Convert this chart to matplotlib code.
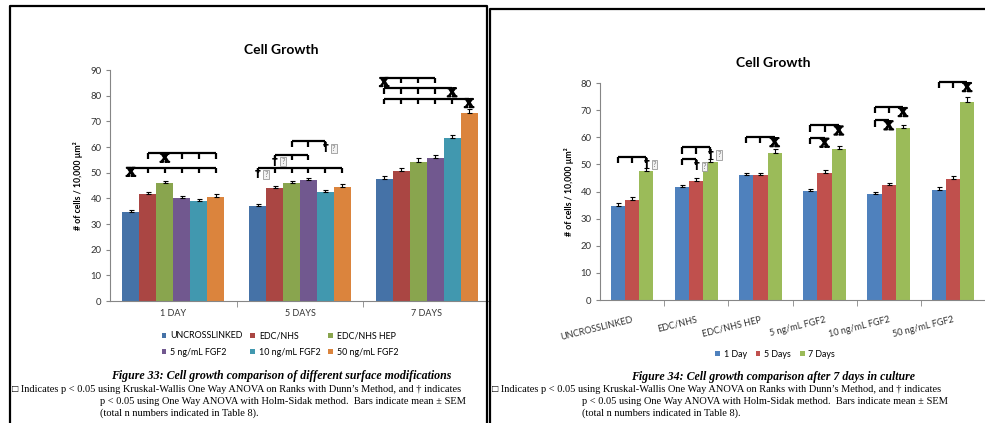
import matplotlib
matplotlib.use("Agg")
import matplotlib.pyplot as plt
import matplotlib.patheffects as pe
from matplotlib.lines import Line2D
import numpy as np

# dados
dias = ['1 DAY', '5 DAYS', '7 DAYS']
tratamentos = ['UNCROSSLINKED', 'EDC/NHS', 'EDC/NHS HEP',
               '5 ng/mL FGF2', '10 ng/mL FGF2', '50 ng/mL FGF2']
dia_1 = [34.8, 41.6, 46.1, 40.1, 39.1, 40.6]
dia_5 = [36.9, 44.0, 46.1, 47.0, 42.3, 44.6]
dia_7 = [47.6, 50.7, 54.3, 55.6, 63.4, 73.1]
sem_1 = [0.8, 0.9, 0.8, 0.8, 0.6, 1.0]
sem_5 = [1.0, 0.8, 0.8, 0.9, 0.9, 1.0]
sem_7 = [1.0, 1.2, 1.3, 1.2, 1.2, 1.6]
legenda_dias = ['1 Day', '5 Days', '7 Days']

# colchetes de significancia: (grupo, barra_ini, barra_fim, altura, simbolo, barra_simbolo)
colchetes_33 = [(0, 0, 5, 52.0, 'x', 0), (0, 1, 5, 57.5, 'x', 2),
                (1, 0, 5, 52.0, 'd', 0), (1, 1, 3, 57.0, 'd', 1),
                (1, 2, 4, 62.2, 'd', 4),
                (2, 0, 3, 87.0, 'x', 0), (2, 0, 4, 83.0, 'x', 4),
                (2, 0, 5, 78.8, 'x', 5)]
colchetes_34 = [(0, 0, 2, 52.8, 'd', 2),
                (1, 0, 2, 56.4, 'd', 2), (1, 0, 1, 52.1, 'd', 1),
                (2, 0, 2, 60.1, 'x', 2),
                (3, 0, 2, 64.4, 'x', 2), (3, 0, 1, 59.9, 'x', 1),
                (4, 0, 2, 71.2, 'x', 2), (4, 0, 1, 66.3, 'x', 1),
                (5, 0, 2, 80.4, 'x', 2)]

cores_33 = ['#4572A7', '#AA4643', '#89A54E', '#71588F', '#4198AF', '#DB843D']
cores_34 = ['#4F81BD', '#C0504D', '#9BBB59']

W, H = 985, 423
plt.rcParams['font.family'] = ['Lato', 'DejaVu Sans']
fig = plt.figure(figsize=(W / 100, H / 100), dpi=100)


def px(x, y):
    return x / W, 1 - y / H


def eixo(x0, x1, y0, y1):
    ax = fig.add_axes([x0 / W, 1 - y1 / H, (x1 - x0) / W, (y1 - y0) / H])
    for s in ['top', 'right']:
        ax.spines[s].set_visible(False)
    for s in ['left', 'bottom']:
        ax.spines[s].set_color('#868686')
    ax.tick_params(axis='y', labelsize=6.8, colors='#868686', labelcolor='#333333',
                   length=3, pad=3)
    ax.tick_params(axis='x', which='major', length=0, labelsize=6.5,
                   labelcolor='#333333', pad=6)
    ax.tick_params(axis='x', which='minor', length=4, colors='#868686')
    ax.set_ylabel('# of cells / 10,000 µm²', fontsize=6.3, fontweight='bold')
    return ax


def desenha_colchetes(ax, lista, xs, tam):
    for g, i0, i1, y, simb, isimb in lista:
        xa = xs[g][i0]
        xb = xs[g][i1]
        ax.plot([xa, xb], [y, y], color='black', lw=1.6, clip_on=False,
                solid_capstyle='butt')
        for i in range(i0, i1 + 1):
            ax.plot([xs[g][i], xs[g][i]], [y, y - tam], color='black', lw=1.6,
                    clip_on=False, solid_capstyle='butt')
        xm = xs[g][isimb]
        ym = y - tam
        if simb == 'x':
            ax.text(xm, ym, 'X', fontsize=9.5, fontweight='bold',
                    family='Liberation Serif', ha='center', va='center',
                    clip_on=False,
                    path_effects=[pe.withStroke(linewidth=1.2, foreground='black')])
        else:
            ax.annotate('†', (xm, ym), xytext=(0, -0.5), textcoords='offset points',
                        fontsize=8.5, fontweight='bold', ha='center', va='center',
                        family='DejaVu Sans', annotation_clip=False)
            ax.annotate('?', (xm, ym), xytext=(6, -1), textcoords='offset points',
                        fontsize=5.5, ha='center', va='center', color='#777777',
                        annotation_clip=False,
                        bbox=dict(boxstyle='square,pad=0.15', fc='#f2f2f2',
                                  ec='#999999', lw=0.6))


# ---- Figura 33 ----
ax1 = eixo(110, 490, 70, 301)
medias = np.array([dia_1, dia_5, dia_7])
erros = np.array([sem_1, sem_5, sem_7])
larg = 0.134
n = len(tratamentos)
x = np.arange(len(dias))
xs33 = [[x[g] + (i - (n - 1) / 2) * larg for i in range(n)] for g in range(len(dias))]
barras = []
for i in range(n):
    b = ax1.bar(x + (i - (n - 1) / 2) * larg, medias[:, i], larg,
                color=cores_33[i], label=tratamentos[i],
                yerr=[np.zeros(len(dias)), erros[:, i]],
                error_kw=dict(ecolor='black', elinewidth=0.8, capsize=1.8,
                              capthick=0.8))
    barras.append(b)
ax1.set_xlim(-0.5, 2.5)
ax1.set_ylim(0, 90)
ax1.set_yticks(range(0, 91, 10))
ax1.set_xticks(x)
ax1.set_xticklabels(dias)
ax1.set_xticks([0.5, 1.5, 2.5], minor=True)
ax1.yaxis.set_label_coords(-0.071, 0.5)
desenha_colchetes(ax1, colchetes_33, xs33, 2.2)

ordem = [0, 3, 1, 4, 2, 5]
fig.legend([barras[k] for k in ordem], [tratamentos[k] for k in ordem],
           loc='center', bbox_to_anchor=px(280, 344), ncol=3, frameon=False,
           fontsize=6.4, handlelength=0.55, handleheight=0.55, handletextpad=0.4,
           columnspacing=0.9, labelspacing=0.8, borderpad=0)

# ---- Figura 34 ----
ax2 = eixo(600, 985, 83, 300)
larg2 = 0.222
x2 = np.arange(n)
xs34 = [[x2[g] + (i - 1) * larg2 for i in range(3)] for g in range(n)]
for j in range(3):
    ax2.bar(x2 + (j - 1) * larg2, medias[j], larg2, color=cores_34[j],
            label=legenda_dias[j], yerr=[np.zeros(n), erros[j]],
            error_kw=dict(ecolor='black', elinewidth=0.8, capsize=1.8,
                          capthick=0.8))
ax2.set_xlim(-0.5, n - 0.5)
ax2.set_ylim(0, 80)
ax2.set_yticks(range(0, 81, 10))
ax2.set_xticks(x2)
ax2.set_xticklabels(tratamentos, rotation=14, ha='right', rotation_mode='anchor')
ax2.set_xticks(np.arange(0.5, n, 1.0), minor=True)
ax2.tick_params(axis='x', which='major', pad=11)
ax2.yaxis.set_label_coords(-0.068, 0.5)
desenha_colchetes(ax2, colchetes_34, xs34, 2.4)
fig.legend(*ax2.get_legend_handles_labels(), loc='center',
           bbox_to_anchor=px(775, 354), ncol=3, frameon=False, fontsize=6.4,
           handlelength=0.55, handleheight=0.55, handletextpad=0.4,
           columnspacing=1.0, borderpad=0)

# titulos
fig.text(*px(281, 50), 'Cell Growth', fontsize=10, fontweight='bold',
         ha='center', va='center')
fig.text(*px(773, 63), 'Cell Growth', fontsize=10, fontweight='bold',
         ha='center', va='center')

# legendas das figuras (texto)
serif = 'Liberation Serif'
linha2 = '□ Indicates p < 0.05 using Kruskal-Wallis One Way ANOVA on Ranks with Dunn’s Method, and † indicates'
linha3 = 'p < 0.05 using One Way ANOVA with Holm-Sidak method.  Bars indicate mean ± SEM'
linha4 = '(total n numbers indicated in Table 8).'
fig.text(*px(281, 376), 'Figure 33: Cell growth comparison of different surface modifications',
         family=serif, fontsize=8.6, fontweight='bold', style='italic',
         ha='center', va='center')
fig.text(*px(773, 377), 'Figure 34: Cell growth comparison after 7 days in culture',
         family=serif, fontsize=8.6, fontweight='bold', style='italic',
         ha='center', va='center')
for x0, x1 in [(12, 100), (492, 582)]:
    fig.text(*px(x0, 389), linha2, family=serif, fontsize=7.45, va='center')
    fig.text(*px(x1, 401), linha3, family=serif, fontsize=7.45, va='center')
    fig.text(*px(x1, 413), linha4, family=serif, fontsize=7.45, va='center')

# molduras dos dois paineis
for xs_, ys_ in [([10, 10, 487, 487], [H, 6, 6, H]),
                 ([490, 490, W], [H, 9.5, 9.5])]:
    fig.add_artist(Line2D([v / W for v in xs_], [1 - v / H for v in ys_],
                          color='black', lw=1.6))

fig.savefig('out.png', dpi=100)
